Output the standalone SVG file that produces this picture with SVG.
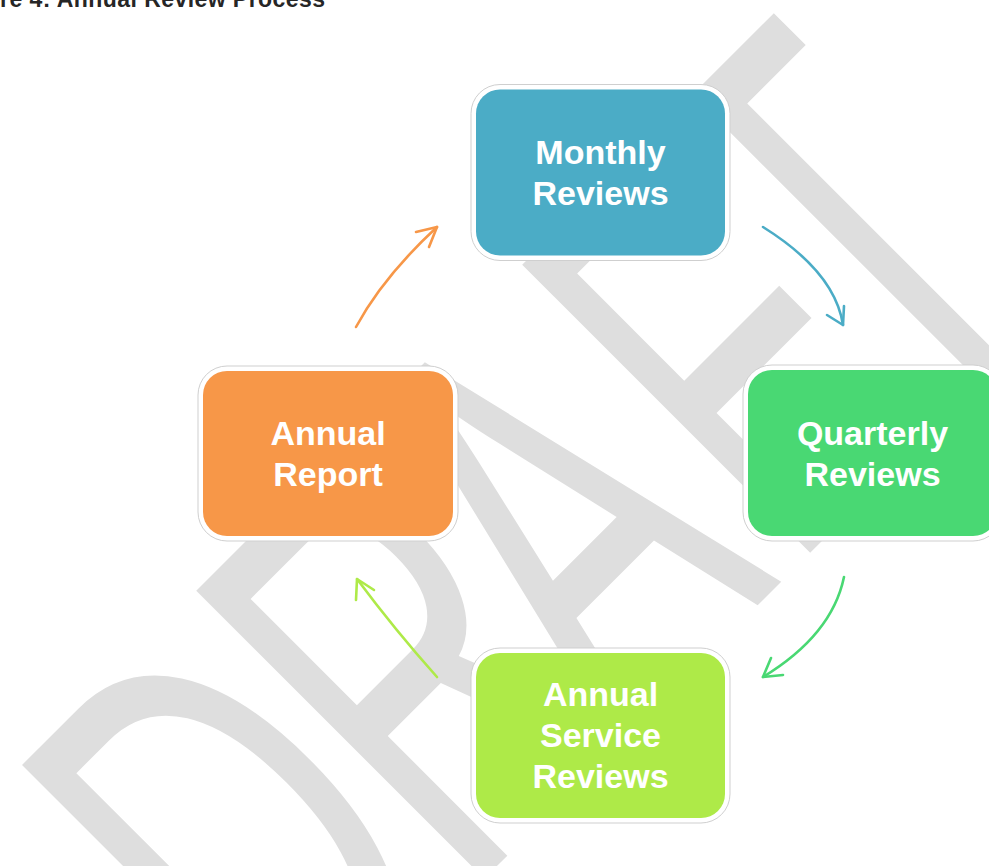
<svg xmlns="http://www.w3.org/2000/svg" width="989" height="866" viewBox="0 0 989 866">
  <style>
    .wm { font-family: "Liberation Sans", Arial, sans-serif; font-size: 100px; fill: #dedede; }
    .title { font-family: "Liberation Sans", Arial, sans-serif; font-weight: bold; font-size: 23px; fill: #262626; }
    .frame { fill: #ffffff; stroke: #cfcfcf; stroke-width: 1; }
    .lbl { font-family: "Liberation Sans", Arial, sans-serif; font-weight: bold; font-size: 34px; fill: #ffffff; text-anchor: middle; }
    .conn { fill: none; stroke-width: 2.6; stroke-linecap: round; stroke-linejoin: round; }
  </style>

  <rect width="989" height="866" fill="#ffffff"/>

  <!-- diagonal DRAFT watermark, stretched tall -->
  <g id="watermark" transform="rotate(-45) scale(3.5,5.92)">
    <text class="wm" x="-158.3" y="162.8">D</text>
    <text class="wm" x="-87.9" y="162.8">R</text>
    <text class="wm" x="-26.2" y="162.8">A</text>
    <text class="wm" x="43.8" y="162.8">F</text>
    <text class="wm" x="94.9" y="162.8">T</text>
  </g>

  <text class="title" x="0" y="7" textLength="325" lengthAdjust="spacing">re 4: Annual Review Process</text>

  <!-- process steps -->
  <g id="monthly">
    <rect class="frame" x="471" y="84.5" width="259" height="176" rx="29"/>
    <rect x="476" y="89.5" width="249" height="166" rx="24" fill="#4bacc6"/>
    <text class="lbl" x="600.5" y="164">Monthly</text>
    <text class="lbl" x="600.5" y="205">Reviews</text>
  </g>

  <g id="quarterly">
    <rect class="frame" x="743" y="365" width="259" height="176" rx="29"/>
    <rect x="748" y="370" width="249" height="166" rx="24" fill="#49d873"/>
    <text class="lbl" x="872.5" y="444.5">Quarterly</text>
    <text class="lbl" x="872.5" y="485.5">Reviews</text>
  </g>

  <g id="annual-service">
    <rect class="frame" x="471" y="648" width="259" height="175" rx="29"/>
    <rect x="476" y="653" width="249" height="165" rx="24" fill="#aeea48"/>
    <text class="lbl" x="600.5" y="706">Annual</text>
    <text class="lbl" x="600.5" y="747">Service</text>
    <text class="lbl" x="600.5" y="788">Reviews</text>
  </g>

  <g id="annual-report">
    <rect class="frame" x="198" y="366" width="260" height="175" rx="29"/>
    <rect x="203" y="371" width="250" height="165" rx="24" fill="#f79748"/>
    <text class="lbl" x="328" y="445">Annual</text>
    <text class="lbl" x="328" y="486">Report</text>
  </g>

  <!-- curved arrows between steps -->
  <g id="connectors">
    <g stroke="#4bacc6" class="conn">
      <path d="M763,227 Q835,272 843,325"/>
      <polyline points="827,315 843,325 844,306"/>
    </g>
    <g stroke="#49d873" class="conn">
      <path d="M844,577 Q832,635 763,677"/>
      <polyline points="771,658 763,677 783,675"/>
    </g>
    <g stroke="#aeea48" class="conn">
      <path d="M437,677 Q395,630 357,579"/>
      <polyline points="356,600 357,579 374,590"/>
    </g>
    <g stroke="#f79748" class="conn">
      <path d="M356,327 Q383,277 437,227"/>
      <polyline points="416,232 437,227 429,247"/>
    </g>
  </g>
</svg>
